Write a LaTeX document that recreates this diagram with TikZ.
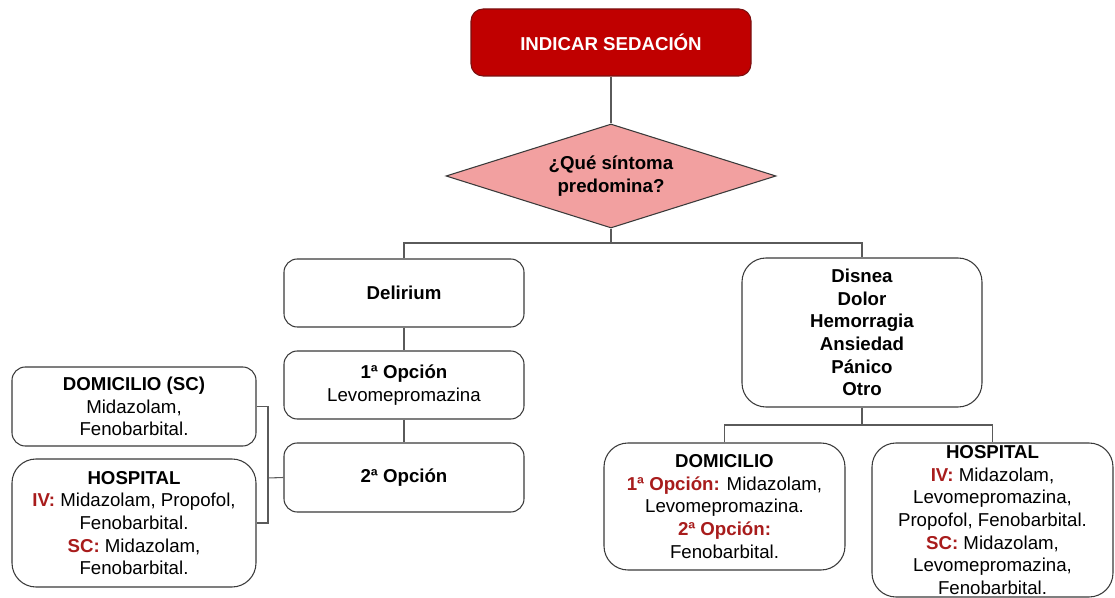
\documentclass[tikz,border=0pt]{standalone}
\usepackage{fontspec}
\setmainfont{Liberation Sans}
\usetikzlibrary{shapes.geometric}
\definecolor{titlered}{HTML}{C00000}
\definecolor{titleedge}{HTML}{7A1010}
\definecolor{diapink}{HTML}{F2A0A0}
\definecolor{edgegray}{HTML}{3A3A3A}
\definecolor{linegray}{HTML}{5A5A5A}
\definecolor{redtxt}{HTML}{A81C1C}
\newcommand{\rt}[1]{\textcolor{redtxt}{\textbf{#1}}}
\tikzset{
  every node/.style={font=\fontsize{14pt}{17pt}\selectfont, align=center, inner sep=0pt},
  box/.style={draw=edgegray, line width=0.8pt, fill=white, rounded corners=10pt},
  bigbox/.style={box, rounded corners=18pt},
  conn/.style={draw=linegray, line width=0.8pt},
}
\begin{document}
\begin{tikzpicture}[x=0.75pt,y=-0.75pt]
\useasboundingbox (0,0) rectangle (1115,598);
% title
\node[draw=titleedge, line width=0.8pt, fill=titlered, rounded corners=9pt, text=white,
      minimum width=210pt, minimum height=50.25pt] (top) at (611,42.5) {\textbf{INDICAR SEDACIÓN}};
% diamond
\node[diamond, draw=edgegray, line width=0.8pt, fill=diapink, aspect=3.17,
      minimum width=247.5pt, minimum height=78pt] (dia) at (611,176) {\textbf{¿Qué síntoma}\\\textbf{predomina?}};
% left branch
\node[box, minimum width=180pt, minimum height=51pt] (delir) at (404,293) {\textbf{Delirium}};
\node[box, minimum width=180pt, minimum height=51pt] (opt1) at (404,385) {\textbf{1ª Opción}\\Levomepromazina};
\node[box, minimum width=180pt, minimum height=51.75pt] (opt2) at (404,477.5) {\textbf{2ª Opción}};
\node[box, minimum width=183pt, minimum height=59.25pt] (domsc) at (134,406.5)
  {\textbf{DOMICILIO (SC)}\\Midazolam,\\Fenobarbital.};
\node[bigbox, minimum width=183pt, minimum height=96pt] (hospl) at (134,523)
  {\textbf{HOSPITAL}\\\rt{IV:} Midazolam, Propofol,\\Fenobarbital.\\\rt{SC:} Midazolam,\\Fenobarbital.};
% right branch
\node[bigbox, minimum width=180pt, minimum height=111.75pt] (sym) at (862,332.5)
  {\textbf{Disnea}\\\textbf{Dolor}\\\textbf{Hemorragia}\\\textbf{Ansiedad}\\\textbf{Pánico}\\\textbf{Otro}};
\node[bigbox, minimum width=180.75pt, minimum height=95.25pt] (domr) at (724.5,506.5)
  {\textbf{DOMICILIO}\\\rt{1ª Opción:} Midazolam,\\Levomepromazina.\\\rt{2ª Opción:}\\Fenobarbital.};
\node[bigbox, minimum width=180.75pt, minimum height=115.5pt] (hospr) at (992.5,520)
  {\textbf{HOSPITAL}\\\rt{IV:} Midazolam,\\Levomepromazina,\\Propofol, Fenobarbital.\\\rt{SC:} Midazolam,\\Levomepromazina,\\Fenobarbital.};
% junctions
\coordinate (j1) at (611,243);
\coordinate (j2) at (862,425);
\coordinate (b) at (268,478);
% connectors
\draw[conn] (top.south) -- (dia.north);
\draw[conn] (dia.south) -- (j1);
\draw[conn] (delir.north) |- (j1) -| (sym.north);
\draw[conn] (delir.south) -- (opt1.north);
\draw[conn] (opt1.south) -- (opt2.north);
\draw[conn] (domsc.east) -| (b) |- (hospl.east);
\draw[conn] (b) -- (opt2.west);
\draw[conn] (sym.south) -- (j2);
\draw[conn] (domr.north) |- (j2) -| (hospr.north);
\end{tikzpicture}
\end{document}
